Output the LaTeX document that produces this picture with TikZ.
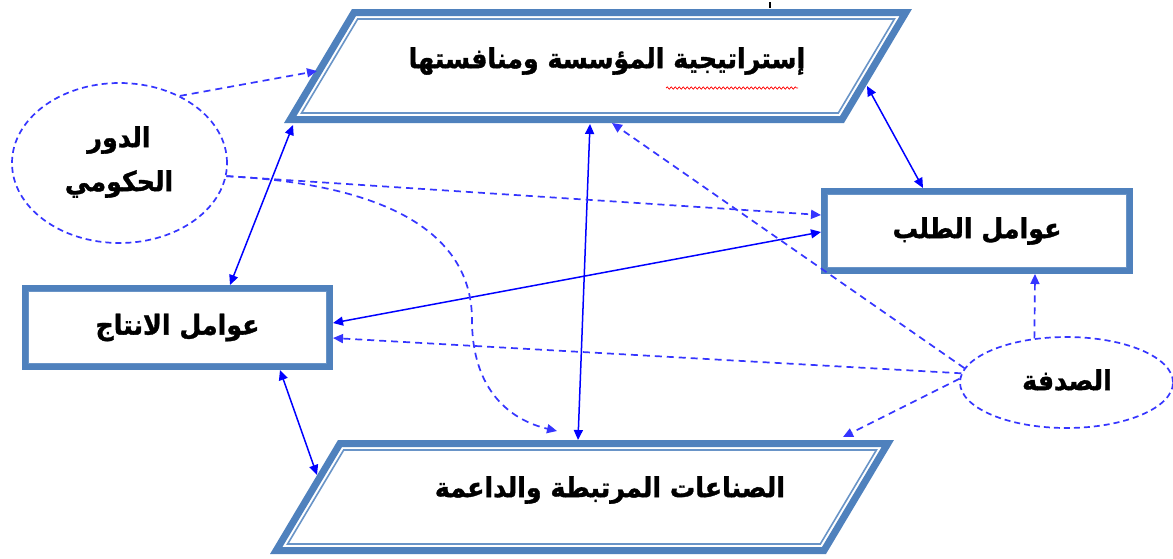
\documentclass[tikz,border=0pt]{standalone}
\usepackage{fontspec}
\TeXXeTstate=1
\newfontfamily\arabicfont[Script=Arabic,FakeStretch=0.92,BoldFeatures={FakeBold=1.2}]{DejaVu Sans}
\usetikzlibrary{arrows.meta,shapes.geometric,decorations.pathmorphing,calc}
\definecolor{boxblue}{HTML}{4F81BD}
\definecolor{linkblue}{HTML}{0000FF}
\definecolor{dashblue}{HTML}{3535FF}
\begin{document}
\begin{tikzpicture}[x=1pt,y=-1pt,
  >={Triangle[length=10pt,width=9pt]},
  thickb/.style={draw=boxblue,line width=7pt,line join=miter},
  thinb/.style={draw=boxblue!85,line width=1.6pt,line join=miter},
  lbl/.style={font=\arabicfont\bfseries\fontsize{27.5}{32}\selectfont,inner sep=0pt,text=black},
  rectbox/.style={thickb,rectangle,inner sep=0pt,lbl},
  oval/.style={ellipse,draw=dashblue,line width=1.7pt,dash pattern=on 6pt off 4pt,inner sep=0pt},
  solidlink/.style={draw=linkblue,line width=1.5pt,<->},
  dashlink/.style={draw=dashblue,line width=1.7pt,dash pattern=on 7pt off 5pt,->}
]
\useasboundingbox (0,0) rectangle (1173,558);
\fill[white] (0,0) rectangle (1173,558);

% --- top parallelogram: strategy
\draw[thickb] (354,12.5) -- (905.8,12.5) -- (842,119.5) -- (290.2,119.5) -- cycle;
\draw[thinb] (357.7,19) -- (894.4,19) -- (838.3,113) -- (301.6,113) -- cycle;
\node[lbl] (strat) at (607,61) {\beginR إستراتيجية المؤسسة ومنافستها\endR};
\draw[red,line width=0.7pt,decorate,decoration={snake,amplitude=1.2pt,segment length=4pt}] (666,88) -- (798,88);
\draw[black,line width=1.2pt] (770,2) -- (770,8);

% --- bottom parallelogram: related industries
\draw[thickb] (340,443.5) -- (887.8,443.5) -- (824,550.5) -- (276.2,550.5) -- cycle;
\draw[thinb] (343.7,450) -- (876.4,450) -- (820.3,544) -- (287.6,544) -- cycle;
\node[lbl] (rel) at (610,490) {\beginR الصناعات المرتبطة والداعمة\endR};

% --- rectangles
\node[rectbox,minimum width=304pt,minimum height=78pt] (prod) at (177.5,327.5) {\beginR عوامل الانتاج\endR};
\draw[thinb] ([shift={(6.5pt,6.5pt)}]prod.south west) rectangle ([shift={(-6.5pt,-6.5pt)}]prod.north east);
\node[rectbox,minimum width=305pt,minimum height=79pt] (dem) at (977,231) {\beginR عوامل الطلب\endR};
\draw[thinb] ([shift={(6.5pt,6.5pt)}]dem.south west) rectangle ([shift={(-6.5pt,-6.5pt)}]dem.north east);

% --- ellipses
\node[oval,minimum width=215pt,minimum height=160pt] (gov) at (119.5,163) {};
\node[lbl,align=center] (govt) at (119,162) {\beginR الدور\endR\\[12pt]\beginR الحكومي\endR};
\node[oval,minimum width=213pt,minimum height=91pt] (luck) at (1066.5,382.5) {};
\node[lbl] (luckt) at (1067,380) {\beginR الصدفة\endR};

% --- edge points on the parallelograms
\coordinate (s1) at (293,125);
\coordinate (s2) at (590,124);
\coordinate (s3) at (612,123);
\coordinate (s4) at (867,86);
\coordinate (s5) at (317,71);
\coordinate (r1) at (317,475);
\coordinate (r2) at (578,440);
\coordinate (r3) at (557,431);
\coordinate (r4) at (843,437);

% --- solid two-way connectors
\draw[solidlink] (s1) -- ([xshift=52.5pt]prod.north);
\draw[solidlink] (s2) -- (r2);
\draw[solidlink] (s4) -- ([xshift=-54pt]dem.north);
\draw[solidlink] ([yshift=4.5pt]prod.east) -- ([yshift=-1pt]dem.west);
\draw[solidlink] ([xshift=102.5pt]prod.south) -- (r1);

% --- dashed one-way connectors
\draw[dashlink] (gov.48) -- (s5);
\draw[dashlink] (gov.-7) -- ([yshift=16pt]dem.west);
\draw[dashlink] (gov.-7) .. controls (400,185) and (472,240) .. (472,320) .. controls (472,390) and (510,420) .. (r3);
\draw[dashlink] (luck.172) -- (s3);
\draw[dashlink] (luck.175) -- ([yshift=-10.5pt]prod.east);
\draw[dashlink] (luck.178) -- (r4);
\draw[dashlink] (luck.126) -- ([xshift=58pt]dem.south);
\end{tikzpicture}
\end{document}
